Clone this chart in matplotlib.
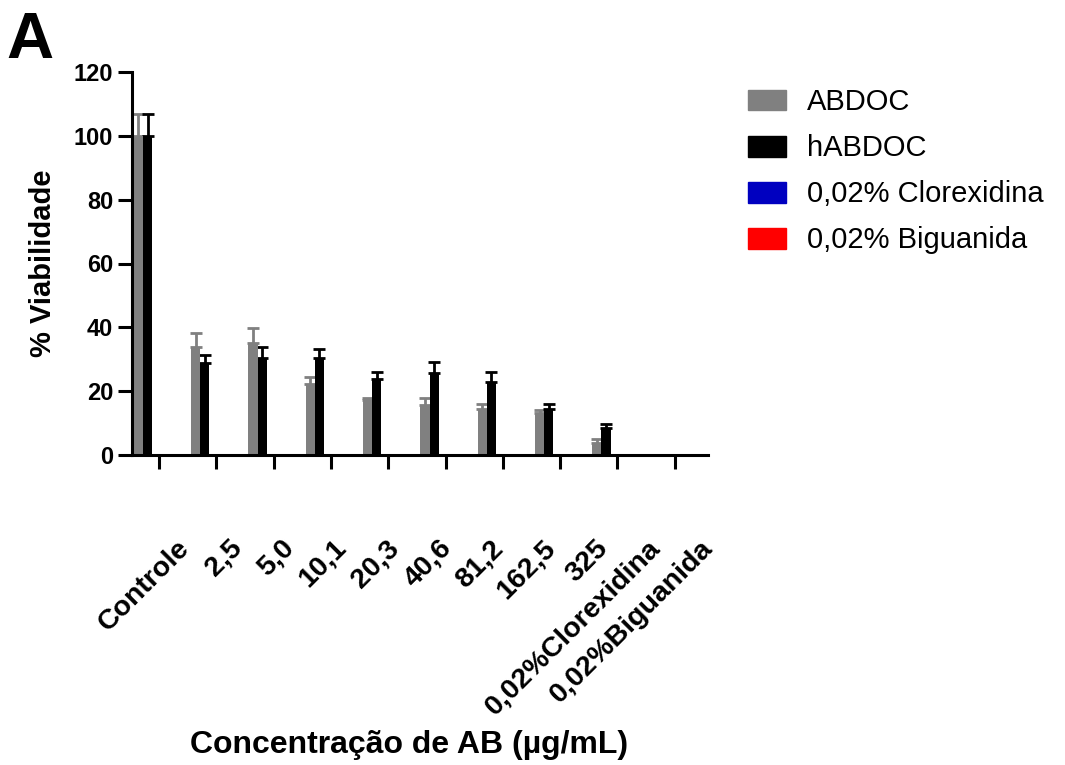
import numpy as np
import matplotlib
matplotlib.use("Agg")
import matplotlib.pyplot as plt
import matplotlib.transforms as mtransforms
from matplotlib.patches import Patch

plt.rcParams["font.family"] = ["Liberation Sans", "DejaVu Sans"]

#DATA
groups = ["Controle", "2,5", "5,0", "10,1", "20,3", "40,6", "81,2", "162,5", "325",
          "0,02%Clorexidina", "0,02%Biguanida"]
abdoc = [100, 33.9, 35.1, 22.3, 17.2, 15.7, 14.4, 13.2, 3.8, 0, 0]
abdoc_err = [6.8, 4.3, 4.7, 2.2, 0.6, 2.2, 1.6, 0.9, 1.2, 0, 0]
habdoc = [100, 28.8, 30.4, 30.4, 23.8, 25.7, 22.9, 14.4, 8.5, 0, 0]
habdoc_err = [6.8, 2.6, 3.5, 2.8, 2.2, 3.5, 3.1, 1.6, 1.2, 0, 0]
legend_labels = ["ABDOC", "hABDOC", "0,02% Clorexidina", "0,02% Biguanida"]
legend_colors = ["#808080", "#000000", "#0000C0", "#FF0000"]

fig = plt.figure(figsize=(10.65, 7.65), dpi=100)
ax = fig.add_axes([132 / 1065, 1 - 455 / 765, (708 - 132) / 1065, (455 - 72) / 765])

x = np.arange(len(groups))
w = 0.16
ax.bar(x - w / 2, abdoc, w, color="#808080", zorder=2)
ax.bar(x + w / 2, habdoc, w, color="#000000", zorder=2)
ax.errorbar(x - w / 2, abdoc, yerr=[np.zeros(len(x)), abdoc_err], fmt="none",
            ecolor="#808080", elinewidth=2, capsize=4, capthick=2, zorder=1)
ax.errorbar(x + w / 2, habdoc, yerr=[np.zeros(len(x)), habdoc_err], fmt="none",
            ecolor="#000000", elinewidth=2, capsize=4, capthick=2, zorder=1)

ax.set_xlim(-0.192, 9.86)
ax.set_ylim(0, 120)
ax.set_yticks(np.arange(0, 121, 20))
ax.set_xticks(np.arange(10) + 0.28)
ax.set_xticklabels([])

for s in ["top", "right"]:
    ax.spines[s].set_visible(False)
for s in ["left", "bottom"]:
    ax.spines[s].set_linewidth(2.2)
ax.tick_params(axis="both", width=2.2, length=10, labelsize=17)
for t in ax.get_yticklabels():
    t.set_fontweight("bold")

#X LABELS (Prism spreads them evenly along the axis)
off = mtransforms.ScaledTranslation(0.18, -0.80, fig.dpi_scale_trans)
for i, lab in enumerate(groups):
    ax.text((i + 0.5) / len(groups), 0, lab, transform=ax.transAxes + off,
            rotation=45, ha="right", va="top", rotation_mode="anchor",
            fontsize=20.5, fontweight="bold")

ax.set_ylabel("% Viabilidade", fontsize=21, fontweight="bold", labelpad=12)
fig.text(409 / 1065, 1 - 745 / 765, "Concentração de AB (µg/mL)", ha="center", va="center",
         fontsize=23, fontweight="bold")
fig.text(6 / 1065, 1 - 41 / 765, "A", fontsize=47, fontweight="bold", va="center", ha="left")

handles = [Patch(color=c) for c in legend_colors]
fig.legend(handles, legend_labels, loc="upper left", bbox_to_anchor=(722 / 1065, 1 - 62 / 765),
           frameon=False, fontsize=21, handlelength=1.3, handleheight=0.72,
           handletextpad=0.7, labelspacing=0.62)

fig.savefig("out.png", dpi=100)
